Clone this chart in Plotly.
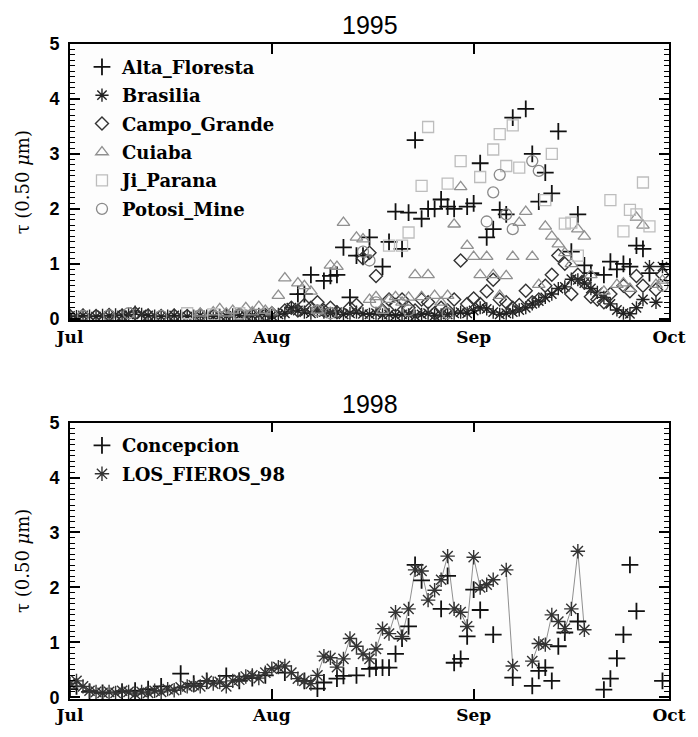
import numpy as np
import plotly.graph_objects as go

# ---------------- data (day offset from Jul 1, AOT at 0.50 um) ----------------
# 1995
alta_days = [35, 36, 37, 39, 40, 41, 42, 43, 44, 45, 46, 48, 49, 50, 51, 52, 53, 54, 55, 56,
             57, 58, 59, 61, 62, 63, 64, 65, 66, 67, 68, 70, 71, 72, 73, 74, 75, 77, 78, 79,
             80, 82, 83, 84, 85, 86, 87, 88, 89]
alta_vals = [0.45, 0.45, 0.8, 0.69, 0.78, 0.8, 1.3, 0.39, 1.15, 1.15, 1.48, 0.95, 1.4, 1.95, 1.27, 1.93, 3.25, 1.82, 2.0, 2.0,
             2.17, 2.04, 2.0, 2.04, 2.1, 2.83, 1.48, 1.63, 1.98, 1.9, 3.66, 3.82, 3.0, 2.13, 2.66, 2.28, 3.41, 1.22, 1.9, 0.97,
             0.83, 0.8, 1.04, 0.9, 1.0, 0.95, 1.33, 1.27, 0.83]

bras_days = list(range(0, 92))
bras_vals = [0.05, 0.04, 0.06, 0.05, 0.04, 0.06, 0.05, 0.07, 0.06, 0.08,
             0.12, 0.08, 0.06, 0.05, 0.04, 0.05, 0.06, 0.05, 0.04, 0.05,
             0.06, 0.05, 0.04, 0.06, 0.05, 0.07, 0.06, 0.05, 0.06, 0.08,
             0.07, 0.06, 0.08, 0.10, 0.20, 0.15, 0.12, 0.10, 0.14, 0.12,
             0.10, 0.12, 0.08, 0.10, 0.12, 0.09, 0.08, 0.10, 0.07, 0.08,
             0.06, 0.08, 0.07, 0.05, 0.08, 0.10, 0.06, 0.07, 0.08, 0.10,
             0.12, 0.10, 0.15, 0.20, 0.18, 0.12, 0.08, 0.10, 0.12, 0.16,
             0.20, 0.27, 0.32, 0.39, 0.45, 0.55, 0.58, 0.72, 0.71, 0.65,
             0.55, 0.48, 0.39, 0.27, 0.16, 0.10, 0.09, 0.20, 0.35, 0.95,
             0.30, 0.95]

campo_days = [0, 2, 4, 6, 8, 10, 12, 14, 16, 18, 20, 22, 24, 26, 28, 30,
              31, 33, 34, 35, 36, 37, 38, 39, 40, 41, 43, 44, 45, 46, 47, 48, 49, 50,
              51, 52, 53, 54, 55, 56, 57, 58, 59, 60, 61, 62, 63, 64, 65, 66, 67, 68,
              69, 70, 71, 72, 73, 74, 75, 76, 77, 78, 79, 80, 81, 82, 83, 85, 86, 87,
              88, 90, 91]
campo_vals = [0.05, 0.06, 0.05, 0.07, 0.06, 0.1, 0.06, 0.05, 0.06, 0.05, 0.07, 0.05, 0.06, 0.08, 0.06, 0.07,
              0.1, 0.15, 0.2, 0.15, 0.25, 0.2, 0.3, 0.15, 0.2, 0.12, 0.2, 0.25, 1.1, 1.2, 0.78, 0.15, 0.35, 0.25,
              0.35, 0.2, 0.15, 0.35, 0.3, 0.1, 0.2, 0.15, 0.35, 1.06, 0.27, 0.37, 0.27, 0.5, 0.71, 0.35, 0.3, 0.2,
              0.25, 0.51, 0.3, 0.35, 0.6, 0.8, 1.15, 1.0, 0.45, 0.8, 0.66, 0.4, 0.35, 0.3, 0.45, 0.6, 0.5, 0.78,
              0.6, 0.53, 0.8]

cuiaba_days = [20, 22, 23, 24, 25, 27, 28, 29, 30, 31, 32, 33, 35, 36, 37, 38, 40, 41, 42, 44,
               45, 46, 47, 48, 49, 50, 51, 52, 53, 54, 55, 56, 57, 58, 59, 60, 61, 62, 63, 64,
               65, 66, 67, 68, 69, 70, 71, 72, 73, 74, 75, 76, 77, 78, 79, 80, 82, 84, 85, 86,
               87, 88, 90, 91]
cuiaba_vals = [0.1, 0.12, 0.18, 0.1, 0.15, 0.2, 0.12, 0.22, 0.15, 0.12, 0.42, 0.74, 0.65, 0.6, 0.5, 0.15, 0.97, 0.95, 1.75, 1.48,
               1.45, 0.35, 0.4, 0.15, 0.35, 0.4, 0.3, 0.39, 0.8, 0.4, 0.8, 0.42, 0.3, 0.42, 1.72, 2.4, 1.33, 1.13, 0.8, 1.13,
               0.8, 0.42, 0.78, 1.13, 1.75, 1.95, 1.13, 0.62, 1.68, 1.5, 1.36, 1.2, 1.0, 1.63, 1.5, 0.8, 0.5, 0.62, 0.65, 0.55,
               1.84, 1.7, 0.62, 0.7]

ji_days = [18, 22, 26, 49, 51, 52, 54, 55, 58, 60, 63, 65, 66, 67, 68, 69, 73, 74, 76, 77,
           78, 83, 85, 86, 87, 88, 89]
ji_vals = [0.1, 0.08, 0.1, 1.33, 1.33, 1.57, 2.42, 3.49, 2.46, 2.87, 2.58, 3.08, 3.36, 2.78, 3.52, 2.75, 2.16, 3.0, 1.73, 1.75,
           1.15, 2.16, 1.59, 1.98, 1.9, 2.48, 1.68]

potosi_days = [2, 6, 9, 14, 20, 26, 38, 40, 45, 46, 47, 52, 58, 64, 65, 66, 67, 68, 71, 72, 91]
potosi_vals = [0.05, 0.06, 0.1, 0.05, 0.06, 0.08, 0.15, 0.1, 1.22, 1.06, 0.3, 0.15, 0.1, 1.77, 2.3, 2.62, 1.9, 1.63, 2.87, 2.69, 0.6]

# 1998
conc_days = [0, 1, 3, 5, 8, 10, 12, 14, 17, 19, 21, 24, 26, 28, 30, 33, 36, 38, 39, 41,
             42, 44, 46, 47, 48, 49, 50, 51, 52, 53, 54, 57, 58, 59, 60, 61, 62, 63, 65, 68,
             71, 72, 73, 74, 75, 76, 78, 82, 83, 84, 85, 86, 87, 91]
conc_vals = [0.15, 0.2, 0.1, 0.08, 0.1, 0.12, 0.15, 0.2, 0.43, 0.25, 0.3, 0.39, 0.3, 0.35, 0.4, 0.45, 0.3, 0.16, 0.27, 0.34,
             0.39, 0.4, 0.52, 0.54, 0.54, 0.54, 0.79, 1.07, 1.29, 2.41, 2.13, 1.61, 2.21, 0.63, 0.7, 1.11, 1.96, 1.59, 1.14, 0.36,
             0.21, 0.48, 0.54, 0.3, 0.93, 1.18, 1.38, 0.14, 0.34, 0.71, 1.14, 2.41, 1.57, 0.3]

fier_days = list(range(0, 66)) + [67, 68, 71, 72, 73, 74, 75, 76, 77, 78, 79]
fier_vals = [0.25, 0.3, 0.2, 0.12, 0.1, 0.08, 0.1, 0.08, 0.12, 0.1,
             0.06, 0.1, 0.08, 0.12, 0.1, 0.15, 0.13, 0.18, 0.2, 0.22,
             0.2, 0.3, 0.25, 0.28, 0.2, 0.3, 0.32, 0.38, 0.4, 0.35,
             0.45, 0.52, 0.55, 0.57, 0.45, 0.34, 0.3, 0.25, 0.4, 0.75,
             0.72, 0.55, 0.7, 1.07, 0.93, 0.79, 0.7, 0.88, 1.25, 1.16,
             1.55, 1.11, 1.61, 2.32, 2.3, 1.77, 1.95, 2.14, 2.57, 1.61,
             1.55, 1.29, 2.55, 2.0, 2.05, 2.14,
             2.32, 0.57, 0.66, 0.98, 0.96, 1.5, 1.38, 1.25, 1.61, 2.66, 1.23]

month_ticks = ["Jul", "Aug", "Sep", "Oct"]
y_title = "τ (0.50 <i>μ</i>m)"


def to_dates(year, days):
    base = np.datetime64(f"{year}-07-01")
    return [str(base + np.timedelta64(int(d), "D")) for d in days]


def with_gaps(year, days, vals):
    xs, ys = [], []
    prev = None
    for d, v in zip(days, vals):
        if prev is not None and d - prev > 1:
            xs.append(None)
            ys.append(None)
        xs.append(str(np.datetime64(f"{year}-07-01") + np.timedelta64(int(d), "D")))
        ys.append(v)
        prev = d
    return xs, ys


fig = go.Figure()

top_series = [
    ("Alta_Floresta", alta_days, alta_vals, "cross-thin-open", "#111111", 12, 1.8),
    ("Brasilia", bras_days, bras_vals, "asterisk-open", "#222222", 11, 1.4),
    ("Campo_Grande", campo_days, campo_vals, "diamond-open", "#333333", 10, 1.4),
    ("Cuiaba", cuiaba_days, cuiaba_vals, "triangle-up-open", "#909090", 11, 1.3),
    ("Ji_Parana", ji_days, ji_vals, "square-open", "#bdbdbd", 11, 1.3),
    ("Potosi_Mine", potosi_days, potosi_vals, "circle-open", "#8a8a8a", 11, 1.3),
]
for name, d, v, sym, col, sz, lw in top_series:
    fig.add_trace(go.Scatter(
        x=to_dates(1995, d), y=v, mode="markers", name=f"<b>{name}</b>",
        marker=dict(symbol=sym, size=sz, color=col, line=dict(color=col, width=lw)),
        xaxis="x", yaxis="y", legend="legend", legendgroup=name))

xs, ys = with_gaps(1998, fier_days, fier_vals)
fig.add_trace(go.Scatter(x=xs, y=ys, mode="lines", line=dict(color="#444444", width=0.6),
                         showlegend=False, hoverinfo="skip", xaxis="x2", yaxis="y2"))

bot_series = [
    ("Concepcion", conc_days, conc_vals, "cross-thin-open", "#111111", 12, 1.8),
    ("LOS_FIEROS_98", fier_days, fier_vals, "asterisk-open", "#333333", 12, 1.4),
]
for name, d, v, sym, col, sz, lw in bot_series:
    fig.add_trace(go.Scatter(
        x=to_dates(1998, d), y=v, mode="markers", name=f"<b>{name}</b>",
        marker=dict(symbol=sym, size=sz, color=col, line=dict(color=col, width=lw)),
        xaxis="x2", yaxis="y2", legend="legend2", legendgroup=name))

xfont = dict(family="DejaVu Serif", size=17, color="black")
yfont = dict(family="Liberation Sans", size=18, color="black")
bg = "#fdfdfd"


def xaxis_cfg(year, anchor):
    tv = [f"{year}-07-01", f"{year}-08-01", f"{year}-09-01", f"{year}-10-01"]
    return dict(type="date", range=[f"{year}-07-01", f"{year}-10-01"],
                tickvals=tv, ticktext=[f"<b>{t}</b>" for t in month_ticks],
                ticks="inside", ticklen=10, tickwidth=1.5, tickcolor="black", mirror="allticks",
                showline=True, linecolor="black", linewidth=1.5, gridcolor=bg, zerolinecolor=bg,
                tickfont=xfont, anchor=anchor, domain=[0, 1])


def yaxis_cfg(domain, anchor):
    return dict(range=[-0.03, 5.0], dtick=1, ticks="inside", ticklen=10,
                tickwidth=1.5, tickcolor="black", mirror="allticks", showline=True, linecolor="black",
                linewidth=1.5, tickfont=yfont, tickprefix="<b>", ticksuffix="</b>\u00a0",
                gridcolor=bg, zerolinecolor=bg,
                minor=dict(dtick=0.1, ticks="inside", ticklen=5, tickcolor="black", tickwidth=1),
                title=dict(text=y_title, font=dict(family="DejaVu Serif", size=18, color="black")),
                domain=domain, anchor=anchor)


legend_common = dict(bgcolor="rgba(0,0,0,0)", borderwidth=0, xanchor="left", yanchor="top",
                     font=dict(family="DejaVu Serif", size=18, color="black"),
                     tracegroupgap=2, itemwidth=30)

fig.update_layout(
    width=698, height=737,
    margin=dict(l=70, r=18, t=44, b=30),
    plot_bgcolor=bg,
    xaxis=xaxis_cfg(1995, "y"),
    yaxis=yaxis_cfg([0.578, 1.0], "x"),
    xaxis2=xaxis_cfg(1998, "y2"),
    yaxis2=yaxis_cfg([0.0, 0.422], "x2"),
    legend=dict(x=0.02, y=0.993, **legend_common),
    legend2=dict(x=0.02, y=0.415, **legend_common),
    annotations=[
        dict(text="1995", x=0.5, y=1.0, xref="paper", yref="paper", xanchor="center", yanchor="bottom",
             yshift=3, showarrow=False, font=dict(family="Liberation Sans", size=25, color="black")),
        dict(text="1998", x=0.5, y=0.422, xref="paper", yref="paper", xanchor="center", yanchor="bottom",
             yshift=3, showarrow=False, font=dict(family="Liberation Sans", size=25, color="black")),
    ],
)

fig.write_html("out.html")
